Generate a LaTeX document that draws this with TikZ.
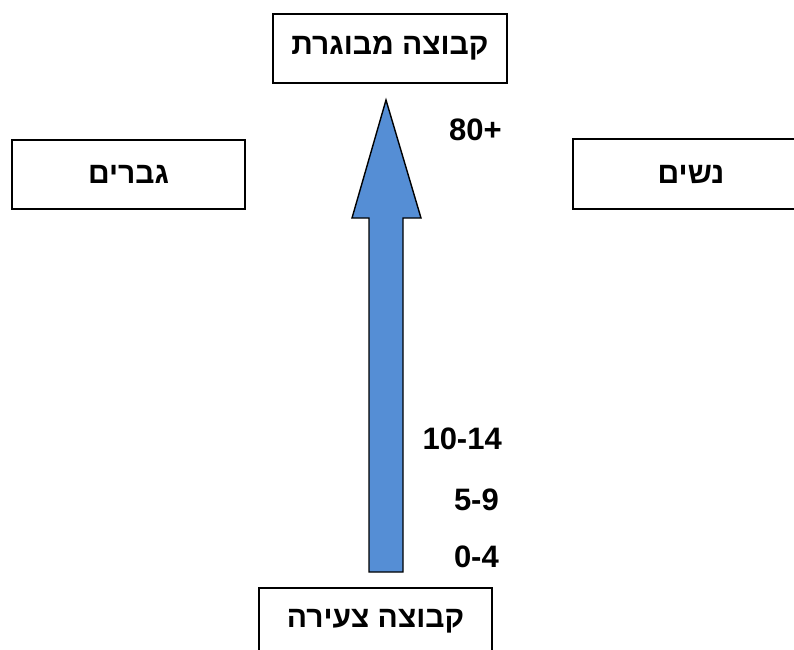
\documentclass[tikz,border=0pt]{standalone}
\usepackage{fontspec}
\setmainfont{Liberation Sans}
\newfontfamily\hebfont[Script=Hebrew]{Liberation Sans Bold}
\TeXXeTstate=1
\definecolor{arrowblue}{RGB}{85,142,213}
\begin{document}
\begin{tikzpicture}[x=1pt,y=-1pt,
  box/.style={draw=black,line width=1.6pt,fill=white,inner sep=0pt,
    font=\hebfont\fontsize{30}{32}\selectfont},
  agelabel/.style={anchor=east,inner sep=0pt,font=\bfseries\fontsize{31}{33}\selectfont}]
\useasboundingbox (0,0) rectangle (794,649);
\node[box,minimum width=234pt,minimum height=69pt] (top) at (390,48.5) {\beginR קבוצה מבוגרת\endR};
\node[box,minimum width=233pt,minimum height=69pt] (men) at (128.5,174.5) {\beginR גברים\endR};
\node[box,minimum width=236pt,minimum height=70pt] (women) at (691,174) {\beginR נשים\endR};
\node[box,minimum width=233pt,minimum height=66pt] (young) at (375.5,621) {\beginR קבוצה צעירה\endR};
\draw[line width=1.4pt,fill=arrowblue,line join=miter]
  (386,100) -- (421,218) -- (403,218) -- (403,572) -- (369,572) -- (369,218) -- (352,218) -- cycle;
\node[agelabel] (a80) at (502,130) {80+};
\node[agelabel] (a10) at (502,439) {10-14};
\node[agelabel] (a5) at (499,500) {5-9};
\node[agelabel] (a0) at (499,557) {0-4};
\end{tikzpicture}
\end{document}
